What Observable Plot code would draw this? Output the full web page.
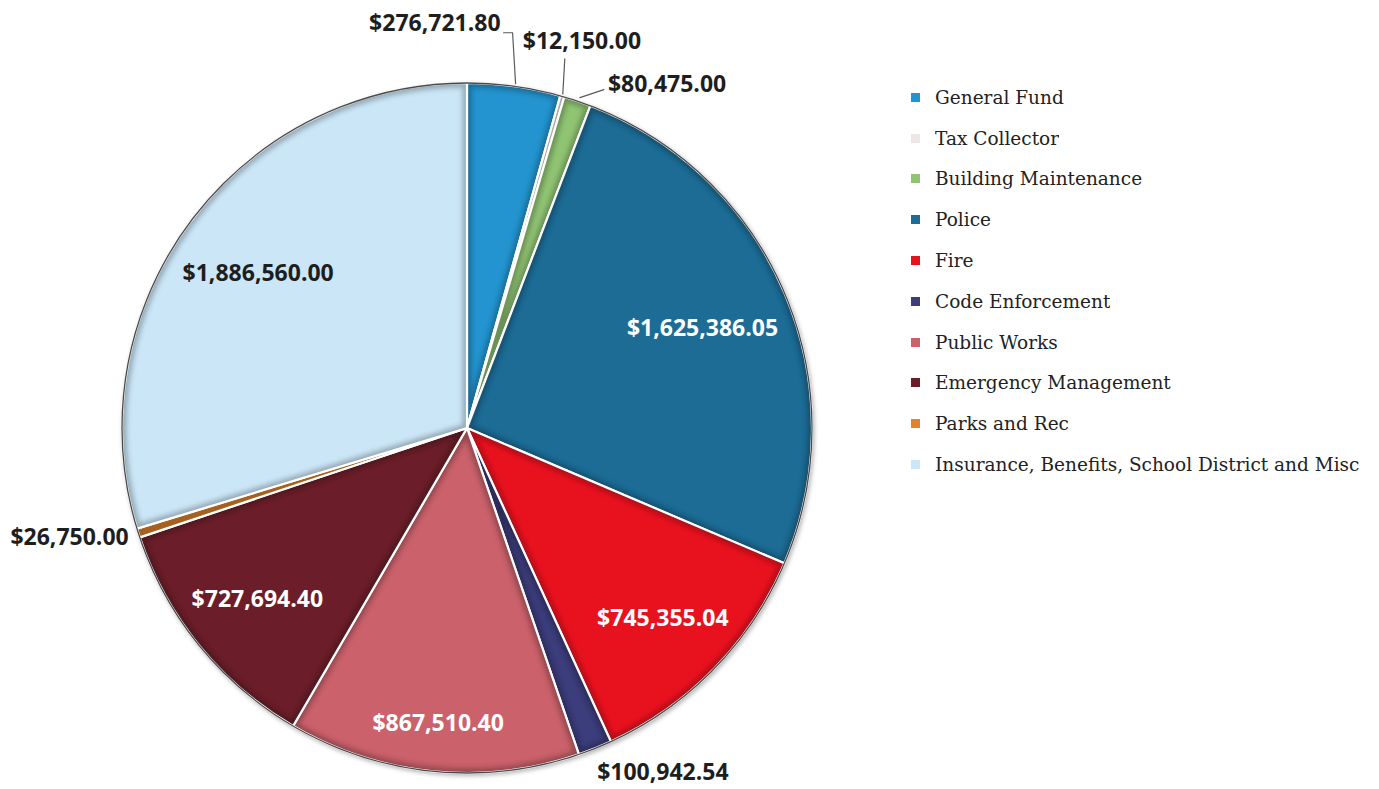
<!DOCTYPE html>
<html>
<head>
<meta charset="utf-8">
<script src="https://cdn.jsdelivr.net/npm/d3@7"></script>
<script src="https://cdn.jsdelivr.net/npm/@observablehq/plot@0.6"></script>
<style>
  html, body { margin: 0; padding: 0; background: #ffffff; }
  #wrap { position: relative; width: 1379px; height: 789px; overflow: hidden; }
  #legend { position: absolute; left: 911px; top: 77px; }
  #legend .lg-swatch { height: 40.8px !important; padding: 0 !important; margin: 0 !important; display: flex; align-items: center; }
  #legend .lg-swatch svg { margin-right: 15px !important; }
</style>
</head>
<body>
<div id="wrap"><div id="chart"></div><div id="legend"></div></div>
<script>
// ---- data ----
const categories = [
  "General Fund",
  "Tax Collector",
  "Building Maintenance",
  "Police",
  "Fire",
  "Code Enforcement",
  "Public Works",
  "Emergency Management",
  "Parks and Rec",
  "Insurance, Benefits, School District and Misc"
];
const values = [276721.80, 12150.00, 80475.00, 1625386.05, 745355.04, 100942.54, 867510.40, 727694.40, 26750.00, 1886560.00];
const colors = ["#2394cf", "#ece6e4", "#90c473", "#1c6c96", "#e8121f", "#3c3d7b", "#ca616b", "#6b1e29", "#e0842c", "#cbe6f7"];

// ---- layout ----
const W = 1379, H = 789, CX = 467, CY = 428, R = 345;
const U = 1 / R; // data units per pixel
const rows = categories.map((c, i) => ({category: c, value: values[i]}));
const arcs = d3.pie().sort(null).value(d => d.value)(rows);
const mid = a => (a.startAngle + a.endAngle) / 2;
const polar = (ang, r) => [Math.sin(ang) * r, -Math.cos(ang) * r];
const fmt = v => "$" + d3.format(",.2f")(v);

const FONT_SIZE = 23;
const ctx = document.createElement("canvas").getContext("2d");
ctx.font = `bold ${FONT_SIZE}px "Open Sans"`;

// largest label radius (<= 0.86) whose text box stays inside the pie with a margin
function fitRadius(ang, text) {
  const hw = ctx.measureText(text).width / 2 * U, hh = 11 * U, lim = 1 - 14 * U;
  for (let r = 0.86; r > 0.4; r -= 0.005) {
    const [x, y] = polar(ang, r);
    const ok = [[-hw, -hh], [hw, -hh], [-hw, hh], [hw, hh]].every(([dx, dy]) => Math.hypot(x + dx, y + dy) <= lim);
    if (ok) return r;
  }
  return 0.6;
}

const insideLabels = [], outsideStart = [], outsideEnd = [], leaders = [];
let topRank = 0;
arcs.forEach((a, i) => {
  const f = (a.endAngle - a.startAngle) / (2 * Math.PI);
  const m = mid(a);
  const text = fmt(a.data.value);
  const [ex, ey] = polar(m, 1);
  if (f > 0.05) {
    const [x, y] = polar(m, fitRadius(m, text));
    const dark = d3.lab(colors[i]).l > 70;
    insideLabels.push({x, y, text, dark});
  } else if (m < Math.PI / 4) {
    // cluster near 12 o'clock
    if (topRank === 0) {
      const lx = ex - 14 * U, ly = ey - 63 * U;
      outsideEnd.push({x: lx, y: ly, text});
      leaders.push({id: i, x: ex + 1 * U, y: ey - 3 * U}, {id: i, x: ex - 2 * U, y: ly + 9 * U}, {id: i, x: lx + 3 * U, y: ly + 9 * U});
    } else if (topRank === 1) {
      const lx = ex - 40 * U, ly = ey - 55 * U;
      outsideStart.push({x: lx, y: ly, text});
      leaders.push({id: i, x: ex, y: ey - 3 * U}, {id: i, x: ex + 2 * U, y: ly + 17 * U});
    } else {
      const lx = ex + 30 * U, ly = ey - 17 * U;
      outsideStart.push({x: lx, y: ly, text});
      leaders.push({id: i, x: ex + 2 * U, y: ey - 4 * U}, {id: i, x: lx - 4 * U, y: ly + 5 * U});
    }
    topRank++;
  } else if (Math.sin(m) >= 0) {
    const [x, y] = polar(m, 1.075);
    outsideStart.push({x: x - 8 * U, y, text});
  } else {
    const [x, y] = polar(m, 1.043);
    outsideEnd.push({x: x + 4 * U, y, text});
  }
});

// ---- pie slices drawn through Plot's scales ----
function pieMark(index, scales) {
  const color = scales.color || d3.scaleOrdinal(categories, colors);
  const ox = scales.x(0), oy = scales.y(0), r = scales.x(1) - scales.x(0);
  const arc = d3.arc().innerRadius(0).outerRadius(r);
  const g = d3.create("svg:g").attr("transform", `translate(${ox},${oy})`);
  const defs = g.append("defs");
  const blur = defs.append("filter").attr("id", "bev").attr("x", "-10%").attr("y", "-10%").attr("width", "120%").attr("height", "120%");
  blur.append("feGaussianBlur").attr("stdDeviation", 2.5);
  const shadow = defs.append("filter").attr("id", "shd").attr("x", "-10%").attr("y", "-10%").attr("width", "120%").attr("height", "120%");
  shadow.append("feGaussianBlur").attr("stdDeviation", 2);
  arcs.forEach((a, i) => {
    defs.append("clipPath").attr("id", "clip" + i).append("path").attr("d", arc(a));
  });
  // soft outer shadow
  g.append("circle").attr("r", r + 1).attr("cx", 1.5).attr("cy", 2).attr("fill", "#777").attr("filter", "url(#shd)").attr("opacity", 0.55);
  const s = g.selectAll("g.slice").data(arcs).join("g").attr("class", "slice");
  s.append("path").attr("d", arc).attr("fill", d => color(d.data.category));
  // inner bevel (dark edge inside each slice)
  s.append("g").attr("clip-path", (d, i) => `url(#clip${i})`)
    .append("path").attr("d", arc)
    .attr("fill", "none")
    .attr("stroke", d => d3.color(color(d.data.category)).darker(1.3))
    .attr("stroke-width", 9)
    .attr("stroke-linejoin", "round")
    .attr("filter", "url(#bev)")
    .attr("opacity", 0.7);
  // white separators
  s.append("path").attr("d", arc).attr("fill", "none").attr("stroke", "#ffffff").attr("stroke-width", 2.2).attr("stroke-linejoin", "round");
  // outer rim
  g.append("circle").attr("r", r).attr("fill", "none").attr("stroke", "#4a4a4a").attr("stroke-width", 1.3);
  return g.node();
}

const labelFont = {fontFamily: "Open Sans", fontWeight: "bold", fontSize: FONT_SIZE};

const chart = Plot.plot({
  width: W,
  height: H,
  margin: 0,
  style: {background: "#ffffff"},
  x: {domain: [-CX / R, (W - CX) / R], range: [0, W], axis: null},
  y: {domain: [-CY / R, (H - CY) / R], range: [0, H], axis: null},
  color: {domain: categories, range: colors},
  marks: [
    pieMark,
    Plot.line(leaders, {x: "x", y: "y", z: "id", stroke: "#5a5a5a", strokeWidth: 1.2}),
    Plot.text(insideLabels.filter(d => !d.dark), {x: "x", y: "y", text: "text", fill: "#ffffff", ...labelFont}),
    Plot.text(insideLabels.filter(d => d.dark), {x: "x", y: "y", text: "text", fill: "#1e1e1e", ...labelFont}),
    Plot.text(outsideStart, {x: "x", y: "y", text: "text", fill: "#1e1e1e", textAnchor: "start", ...labelFont}),
    Plot.text(outsideEnd, {x: "x", y: "y", text: "text", fill: "#1e1e1e", textAnchor: "end", ...labelFont})
  ]
});
document.getElementById("chart").appendChild(chart);

const legend = Plot.legend({
  color: {domain: categories, range: colors},
  legend: "swatches",
  columns: 1,
  swatchSize: 9,
  className: "lg",
  style: {fontFamily: "DejaVu Serif", fontSize: "18.5px", color: "#222222", margin: "0"}
});
document.getElementById("legend").appendChild(legend);
</script>
</body>
</html>
